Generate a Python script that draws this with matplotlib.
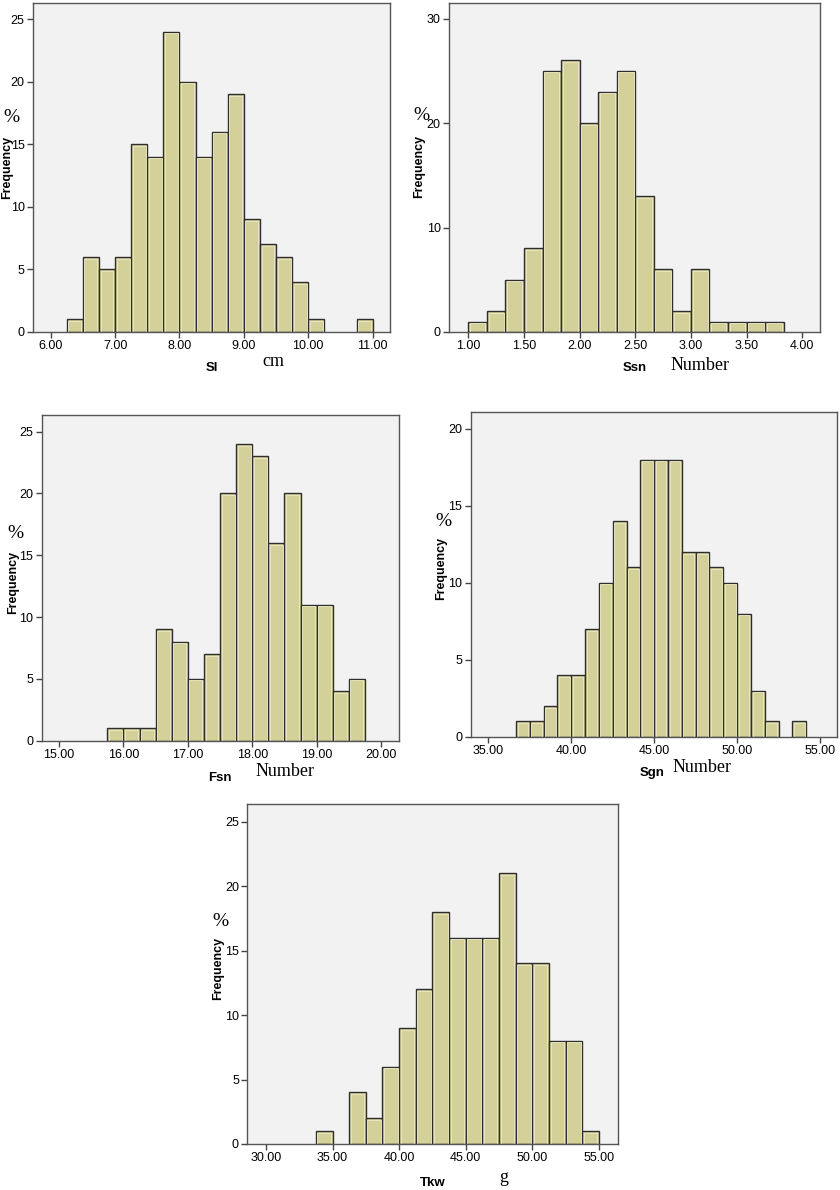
import numpy as np
import matplotlib
matplotlib.use('Agg')
import matplotlib.pyplot as plt

W, H = 840, 1190

# histogram data: first bin edge, bin width, counts
sl_start, sl_width = 6.25, 0.25
sl_counts = [1, 6, 5, 6, 15, 14, 24, 20, 14, 16, 19, 9, 7, 6, 4, 1, 0, 0, 1]

ssn_start, ssn_width = 1.0, 1 / 6
ssn_counts = [1, 2, 5, 8, 25, 26, 20, 23, 25, 13, 6, 2, 6, 1, 1, 1, 1]

fsn_start, fsn_width = 15.75, 0.25
fsn_counts = [1, 1, 1, 9, 8, 5, 7, 20, 24, 23, 16, 20, 11, 11, 4, 5]

sgn_start, sgn_width = 36.6667, 5 / 6
sgn_counts = [1, 1, 2, 4, 4, 7, 10, 14, 11, 18, 18, 18, 12, 12, 11, 10, 8, 3, 1, 0, 1]

tkw_start, tkw_width = 33.75, 1.25
tkw_counts = [1, 0, 4, 2, 6, 9, 12, 18, 16, 16, 16, 21, 14, 14, 8, 8, 1]

bar_color = '#D4D09A'
hi_color = '#ECEAC6'
bg_color = '#F2F2F2'
edge_color = '#2E2E2E'
sans = ['Liberation Sans', 'DejaVu Sans']
serif = ['Liberation Serif', 'DejaVu Serif']

fig = plt.figure(figsize=(W / 100, H / 100), dpi=100)


def px_axes(l, r, t, b):
    return fig.add_axes([l / W, 1 - b / H, (r - l) / W, (b - t) / H])


def ftext(x, y, s, **kw):
    fig.text(x / W, 1 - y / H, s, ha='center', va='center', **kw)


def hist_panel(box, start, width, counts, xlim, ylim, xticks, yticks):
    ax = px_axes(*box)
    ax.set_facecolor(bg_color)
    counts = np.array(counts)
    edges = start + width * np.arange(len(counts))
    mask = counts > 0
    ax.bar(edges[mask], counts[mask], width=width, align='edge',
           color=bar_color, edgecolor=edge_color, linewidth=1.0, zorder=2)
    # light inner rim, inset ~1.5 px
    dx = (xlim[1] - xlim[0]) / (box[1] - box[0]) * 1.6
    dy = (ylim[1] - ylim[0]) / (box[3] - box[2]) * 1.6
    ax.bar(edges[mask] + dx, counts[mask] - dy, width=width - 2 * dx, align='edge',
           color='none', edgecolor=hi_color, linewidth=0.6, zorder=3)
    ax.set_xlim(*xlim)
    ax.set_ylim(*ylim)
    ax.set_xticks(xticks)
    ax.set_xticklabels(['%.2f' % v for v in xticks], family=sans, fontsize=9)
    ax.set_yticks(yticks)
    ax.set_yticklabels([str(int(v)) for v in yticks], family=sans, fontsize=9)
    ax.tick_params(direction='out', length=4, width=1, color='#444444', pad=2)
    for sp in ax.spines.values():
        sp.set_color('#555555')
        sp.set_linewidth(1.0)
        sp.set_zorder(4)
    return ax


hist_panel((33, 390, 3, 332), sl_start, sl_width, sl_counts,
           (5.725, 11.27), (0, 26.3), np.arange(6, 11.01, 1.0), np.arange(0, 26, 5))
hist_panel((449, 820, 3, 332), ssn_start, ssn_width, ssn_counts,
           (0.826, 4.16), (0, 31.5), np.arange(1, 4.01, 0.5), np.arange(0, 31, 10))
hist_panel((41.7, 399, 415, 740.7), fsn_start, fsn_width, fsn_counts,
           (14.73, 20.28), (0, 26.35), np.arange(15, 20.01, 1.0), np.arange(0, 26, 5))
hist_panel((470.7, 837.3, 411.5, 736.7), sgn_start, sgn_width, sgn_counts,
           (33.94, 56.04), (0, 21.12), np.arange(35, 55.01, 5.0), np.arange(0, 21, 5))
hist_panel((247.3, 618, 804, 1144), tkw_start, tkw_width, tkw_counts,
           (28.6, 56.43), (0, 26.37), np.arange(30, 55.01, 5.0), np.arange(0, 26, 5))

# axis titles
freq_pos = [(7, 167), (419, 166), (13, 582), (441, 568), (218, 968)]
pct_pos = [(11, 118), (421, 116), (15, 534), (443, 521), (220, 922)]
for (x, y) in freq_pos:
    ftext(x, y, 'Frequency', rotation=90, family=sans, fontsize=9, fontweight='bold')
for (x, y) in pct_pos:
    ftext(x, y, '%', family=serif, fontsize=14)

var_labels = [('Sl', 212, 368), ('Ssn', 635, 368), ('Fsn', 220, 778),
              ('Sgn', 652, 773), ('Tkw', 433, 1183)]
for s, x, y in var_labels:
    ftext(x, y, s, family=sans, fontsize=9.5, fontweight='bold')

unit_labels = [('cm', 273, 361), ('Number', 700, 366), ('Number', 285, 771),
               ('Number', 702, 768), ('g', 504, 1177)]
for s, x, y in unit_labels:
    ftext(x, y, s, family=serif, fontsize=13)

fig.savefig('out.png', dpi=100, facecolor='white')
